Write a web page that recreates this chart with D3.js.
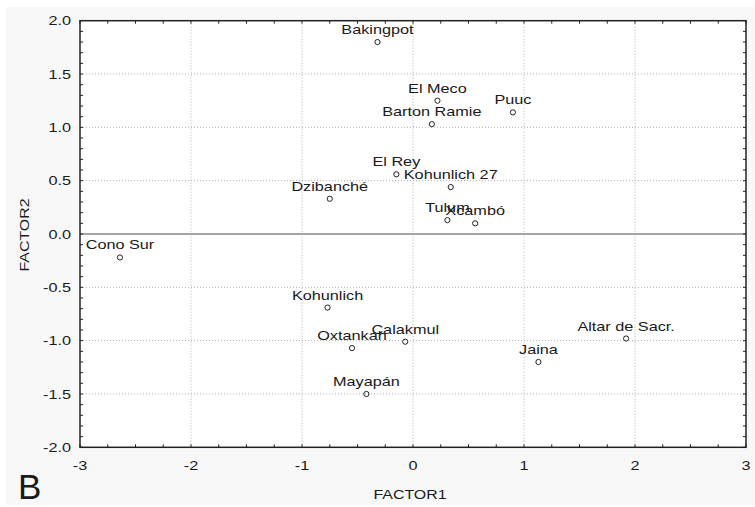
<!DOCTYPE html>
<html>
<head>
<meta charset="utf-8">
<script src="https://cdn.jsdelivr.net/npm/d3@7"></script>
<style>
  html, body { margin: 0; padding: 0; background: #ffffff; }
  svg { display: block; }
  text { font-family: "Liberation Sans", Arial, sans-serif; fill: #1a1a1a; }
</style>
</head>
<body>
<svg id="chart" width="755" height="507"></svg>
<script>
// ---- data ----
const sites   = ["Bakingpot","El Meco","Puuc","Barton Ramie","El Rey","Kohunlich 27","Dzibanché","Tulum","Xcambó","Cono Sur","Kohunlich","Oxtankah","Calakmul","Mayapán","Jaina","Altar de Sacr."];
const factor1 = [-0.32, 0.22, 0.90, 0.17, -0.15, 0.34, -0.75, 0.31, 0.56, -2.64, -0.77, -0.55, -0.07, -0.42, 1.13, 1.92];
const factor2 = [1.80, 1.25, 1.14, 1.03, 0.56, 0.44, 0.33, 0.13, 0.10, -0.22, -0.69, -1.07, -1.01, -1.50, -1.20, -0.98];
const xTicks  = [-3, -2, -1, 0, 1, 2, 3];
const yTicks  = [-2.0, -1.5, -1.0, -0.5, 0.0, 0.5, 1.0, 1.5, 2.0];
const xLabel  = "FACTOR1";
const yLabel  = "FACTOR2";
const panelLetter = "B";

const svg = d3.select("#chart");
const SX = 1.25; // horizontal stretch of the original rendering
const hyph = f => (d => f(d).replace("\u2212", "-"));

// background panel
svg.append("rect").attr("x", 6).attr("y", 7).attr("width", 749).attr("height", 498).attr("fill", "#f8f8f8");

const x = d3.scaleLinear().domain([-3, 3]).range([80, 746]);
const y = d3.scaleLinear().domain([-2, 2]).range([447.3, 20.7]);

// plot area
svg.append("rect").attr("x", x(-3)).attr("y", y(2)).attr("width", x(3) - x(-3)).attr("height", y(-2) - y(2)).attr("fill", "#ffffff");

// grid
const g = svg.append("g");
g.selectAll("line.vx").data(xTicks.filter(d => d > -3 && d < 3)).join("line")
  .attr("x1", d => x(d)).attr("x2", d => x(d)).attr("y1", y(2)).attr("y2", y(-2))
  .attr("stroke", "#b0b0b0").attr("stroke-width", 1).attr("stroke-dasharray", "1,2");
g.selectAll("line.hy").data(yTicks.filter(d => d > -2 && d < 2 && d !== 0)).join("line")
  .attr("x1", x(-3)).attr("x2", x(3)).attr("y1", d => y(d)).attr("y2", d => y(d))
  .attr("stroke", "#b0b0b0").attr("stroke-width", 1).attr("stroke-dasharray", "1,2");
// zero line
svg.append("line").attr("x1", x(-3)).attr("x2", x(3)).attr("y1", y(0)).attr("y2", y(0))
  .attr("stroke", "#8a8a8a").attr("stroke-width", 1.3);

// minor/major inward ticks on all sides
const xt = d3.range(-3, 3.001, 0.25);
const yt = d3.range(-2, 2.001, 0.1);
const tk = svg.append("g").attr("stroke", "#222").attr("stroke-width", 1);
tk.selectAll("line.bx").data(xt).join("line")
  .attr("x1", d => x(d)).attr("x2", d => x(d)).attr("y1", y(-2)).attr("y2", y(-2) - 3);
tk.selectAll("line.tx").data(xt).join("line")
  .attr("x1", d => x(d)).attr("x2", d => x(d)).attr("y1", y(2)).attr("y2", y(2) + 3);
tk.selectAll("line.ly").data(yt).join("line")
  .attr("x1", x(-3)).attr("x2", x(-3) + 3).attr("y1", d => y(d)).attr("y2", d => y(d));
tk.selectAll("line.ry").data(yt).join("line")
  .attr("x1", x(3)).attr("x2", x(3) - 3).attr("y1", d => y(d)).attr("y2", d => y(d));

// frame
svg.append("rect").attr("x", x(-3)).attr("y", y(2)).attr("width", x(3) - x(-3)).attr("height", y(-2) - y(2))
  .attr("fill", "none").attr("stroke", "#222").attr("stroke-width", 1.5);

// tick labels
const fx = hyph(d3.format("d"));
const fy = hyph(d3.format(".1f"));
svg.selectAll("text.xl").data(xTicks).join("text")
  .attr("transform", d => `translate(${x(d)},470) scale(${SX},1)`)
  .attr("text-anchor", "middle").attr("font-size", 13).text(fx);
svg.selectAll("text.yl").data(yTicks).join("text")
  .attr("transform", d => `translate(71,${y(d) + 4.7}) scale(${SX},1)`)
  .attr("text-anchor", "end").attr("font-size", 13).text(fy);

// axis titles
svg.append("text").attr("transform", `translate(410,499) scale(1.18,1)`)
  .attr("text-anchor", "middle").attr("font-size", 13.5).text(xLabel);
svg.append("text").attr("transform", `translate(29,235) rotate(-90) scale(1.18,1)`)
  .attr("text-anchor", "middle").attr("font-size", 13.5).text(yLabel);

// panel letter
svg.append("text").attr("x", 18).attr("y", 499).attr("font-size", 35).text(panelLetter);

// points
const pts = sites.map((s, i) => ({ name: s, f1: factor1[i], f2: factor2[i] }));
svg.selectAll("circle.pt").data(pts).join("circle")
  .attr("cx", d => x(d.f1)).attr("cy", d => y(d.f2)).attr("r", 2.6)
  .attr("fill", "none").attr("stroke", "#222").attr("stroke-width", 1);
svg.selectAll("text.lab").data(pts).join("text")
  .attr("transform", d => `translate(${x(d.f1)},${y(d.f2) - 8}) scale(${SX},1)`)
  .attr("text-anchor", "middle").attr("font-size", 13).text(d => d.name);
</script>
</body>
</html>
